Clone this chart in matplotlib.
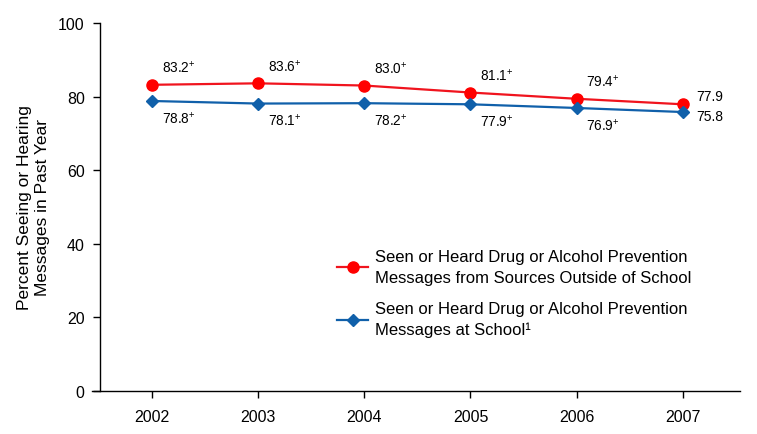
import matplotlib
matplotlib.use('Agg')
import matplotlib.pyplot as plt
from matplotlib import rcParams

rcParams['font.family'] = ['Liberation Sans', 'DejaVu Sans']
rcParams['mathtext.default'] = 'regular'
rcParams['axes.spines.top'] = False
rcParams['axes.spines.right'] = False

years = [2002, 2003, 2004, 2005, 2006, 2007]
outside = [83.2, 83.6, 83.0, 81.1, 79.4, 77.9]
school = [78.8, 78.1, 78.2, 77.9, 76.9, 75.8]
outside_labels = ['83.2$^{+}$', '83.6$^{+}$', '83.0$^{+}$', '81.1$^{+}$', '79.4$^{+}$', '77.9']
school_labels = ['78.8$^{+}$', '78.1$^{+}$', '78.2$^{+}$', '77.9$^{+}$', '76.9$^{+}$', '75.8']

red = '#F0141E'
blue = '#1060AA'

fig = plt.figure(figsize=(7.57, 4.35), dpi=100)
ax = fig.add_axes([0.1321, 0.0989, 0.8455, 0.846])

ax.plot(years, outside, color=red, lw=1.6, marker='o', ms=8, mfc='#FF0000', mec='#FF0000',
        label='Seen or Heard Drug or Alcohol Prevention\nMessages from Sources Outside of School')
ax.plot(years, school, color=blue, lw=1.6, marker='D', ms=6,
        label='Seen or Heard Drug or Alcohol Prevention\nMessages at School\u00b9')

for i, (x, v) in enumerate(zip(years, outside)):
    if i == len(years) - 1:
        ax.annotate(outside_labels[i], (x, v), xytext=(10, 6), textcoords='offset points',
                    fontsize=10, ha='left', va='center')
    else:
        ax.annotate(outside_labels[i], (x, v), xytext=(7, 7), textcoords='offset points',
                    fontsize=9.8, ha='left', va='bottom')

for i, (x, v) in enumerate(zip(years, school)):
    if i == len(years) - 1:
        ax.annotate(school_labels[i], (x, v), xytext=(10, -3), textcoords='offset points',
                    fontsize=10, ha='left', va='center')
    else:
        ax.annotate(school_labels[i], (x, v), xytext=(7, -6), textcoords='offset points',
                    fontsize=9.8, ha='left', va='top')

ax.set_xlim(2001.51, 2007.54)
ax.set_ylim(0, 100)
ax.set_xticks(years)
ax.set_xticklabels([str(y) for y in years])
ax.set_yticks([0, 20, 40, 60, 80, 100])
ax.tick_params(axis='both', labelsize=11.5, direction='out', length=5, width=1, pad=6)
ax.tick_params(axis='x', pad=8)
ax.spines['left'].set_linewidth(1)
ax.spines['bottom'].set_linewidth(1)
ax.spines['bottom'].set_bounds(2001.43, 2007.54)

ax.set_ylabel('Percent Seeing or Hearing\nMessages in Past Year', fontsize=12.5, labelpad=6)

leg = ax.legend(loc='upper left', bbox_to_anchor=(0.370, 0.385), frameon=False, fontsize=12,
                handlelength=1.9, handletextpad=0.4, labelspacing=1.0,
                borderpad=0, borderaxespad=0)
for t in leg.get_texts():
    t.set_linespacing(1.45)

fig.savefig('out.png', dpi=100)
